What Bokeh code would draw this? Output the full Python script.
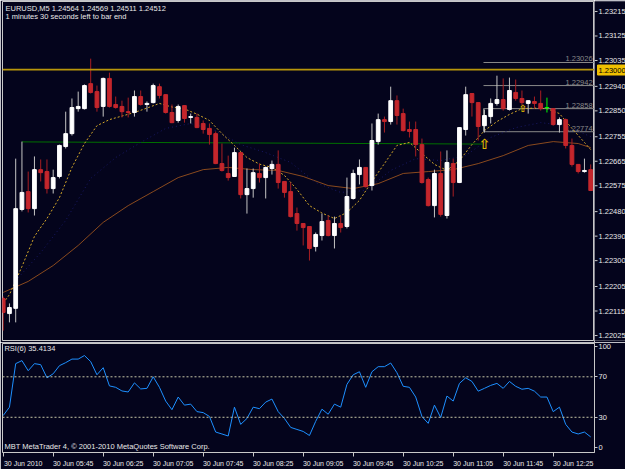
from bokeh.plotting import figure
from bokeh.models import Range1d, FixedTicker, LinearAxis, Span
from bokeh.layouts import column, row
from bokeh.embed import file_html
from bokeh.resources import INLINE
from bokeh.core.properties import value

BG = "#04041c"
FRAME = "#c8c8c8"
TXT = "#e8e8e8"
FONT = "Liberation Sans"

# ---------------- data (EURUSD M5, 30 Jun 2010, bars from 05:05) ----------------
opens = [1.22167, 1.22112, 1.22131, 1.22491, 1.22556, 1.22494, 1.22636, 1.22629, 1.22567, 1.22611,
         1.22720, 1.22767, 1.22858, 1.22858, 1.22949, 1.22920, 1.22866, 1.22968, 1.22873, 1.22866,
         1.22847, 1.22844, 1.22902, 1.22873, 1.22880, 1.22938, 1.22909, 1.22844, 1.22815, 1.22869,
         1.22826, 1.22826, 1.22804, 1.22786, 1.22767, 1.22658, 1.22622, 1.22611, 1.22698, 1.22545,
         1.22567, 1.22622, 1.22607, 1.22640, 1.22655, 1.22593, 1.22556, 1.22476, 1.22440, 1.22429,
         1.22356, 1.22396, 1.22451, 1.22396, 1.22440, 1.22429, 1.22531, 1.22618, 1.22644, 1.22578,
         1.22738, 1.22818, 1.22811, 1.22887, 1.22840, 1.22782, 1.22782, 1.22727, 1.22600, 1.22505,
         1.22622, 1.22469, 1.22658, 1.22589, 1.22782, 1.22913, 1.22880, 1.22796, 1.22829, 1.22877,
         1.22891, 1.22855, 1.22917, 1.22895, 1.22877, 1.22884, 1.22877, 1.22862, 1.22858, 1.22800,
         1.22818, 1.22724, 1.22655, 1.22629, 1.22636]
highs = [1.22174, 1.22149, 1.22676, 1.22738, 1.22629, 1.22684, 1.22673, 1.22673, 1.22636, 1.22727,
         1.22847, 1.22895, 1.22920, 1.22946, 1.23040, 1.22942, 1.22971, 1.22989, 1.22902, 1.22887,
         1.22898, 1.22924, 1.22924, 1.22884, 1.22949, 1.22949, 1.22910, 1.22873, 1.22873, 1.22870,
         1.22840, 1.22840, 1.22815, 1.22804, 1.22775, 1.22731, 1.22687, 1.22716, 1.22699, 1.22640,
         1.22640, 1.22658, 1.22647, 1.22669, 1.22706, 1.22594, 1.22589, 1.22498, 1.22441, 1.22430,
         1.22407, 1.22476, 1.22469, 1.22465, 1.22469, 1.22607, 1.22636, 1.22673, 1.22645, 1.22804,
         1.22840, 1.22829, 1.22938, 1.22906, 1.22858, 1.22811, 1.22811, 1.22749, 1.22607, 1.22636,
         1.22702, 1.22706, 1.22676, 1.22791, 1.22938, 1.22914, 1.22881, 1.22855, 1.22895, 1.22978,
         1.22968, 1.22971, 1.22964, 1.22924, 1.22888, 1.22902, 1.22924, 1.22898, 1.22859, 1.22826,
         1.22822, 1.22749, 1.22656, 1.22676, 1.22655]
lows = [1.22050, 1.22080, 1.22080, 1.22484, 1.22480, 1.22469, 1.22593, 1.22549, 1.22549, 1.22604,
        1.22713, 1.22760, 1.22847, 1.22855, 1.22913, 1.22847, 1.22829, 1.22862, 1.22858, 1.22826,
        1.22826, 1.22829, 1.22869, 1.22847, 1.22877, 1.22895, 1.22840, 1.22805, 1.22807, 1.22807,
        1.22804, 1.22787, 1.22767, 1.22727, 1.22656, 1.22629, 1.22596, 1.22610, 1.22531, 1.22476,
        1.22534, 1.22589, 1.22531, 1.22618, 1.22567, 1.22534, 1.22462, 1.22414, 1.22360, 1.22305,
        1.22338, 1.22378, 1.22393, 1.22349, 1.22407, 1.22422, 1.22527, 1.22582, 1.22571, 1.22560,
        1.22727, 1.22771, 1.22800, 1.22800, 1.22775, 1.22753, 1.22684, 1.22585, 1.22502, 1.22462,
        1.22465, 1.22458, 1.22538, 1.22587, 1.22760, 1.22829, 1.22742, 1.22771, 1.22804, 1.22869,
        1.22851, 1.22851, 1.22887, 1.22869, 1.22840, 1.22858, 1.22851, 1.22844, 1.22796, 1.22771,
        1.22713, 1.22647, 1.22622, 1.22625, 1.22558]
closes = [1.22116, 1.22134, 1.22494, 1.22553, 1.22494, 1.22636, 1.22625, 1.22567, 1.22607, 1.22724,
          1.22767, 1.22862, 1.22866, 1.22942, 1.22917, 1.22862, 1.22968, 1.22866, 1.22862, 1.22847,
          1.22844, 1.22902, 1.22873, 1.22877, 1.22942, 1.22906, 1.22844, 1.22807, 1.22866, 1.22822,
          1.22829, 1.22789, 1.22782, 1.22764, 1.22658, 1.22633, 1.22607, 1.22698, 1.22545, 1.22567,
          1.22625, 1.22607, 1.22644, 1.22655, 1.22589, 1.22553, 1.22465, 1.22440, 1.22425, 1.22349,
          1.22400, 1.22447, 1.22396, 1.22440, 1.22425, 1.22538, 1.22622, 1.22644, 1.22574, 1.22742,
          1.22818, 1.22811, 1.22887, 1.22833, 1.22778, 1.22775, 1.22727, 1.22589, 1.22505, 1.22622,
          1.22473, 1.22662, 1.22589, 1.22789, 1.22909, 1.22880, 1.22793, 1.22833, 1.22877, 1.22891,
          1.22858, 1.22924, 1.22895, 1.22880, 1.22887, 1.22877, 1.22858, 1.22862, 1.22800, 1.22818,
          1.22724, 1.22655, 1.22629, 1.22633, 1.22560]

ma_fast_idx = [0, 1, 3, 5, 7, 9, 11, 13, 15, 17, 19, 21, 23, 25, 27, 29, 31, 33, 35, 37, 39, 41, 43, 45,
               47, 49, 51, 53, 55, 57, 59, 61, 63, 65, 67, 69, 71, 73, 75, 77, 79, 81, 83, 85, 87, 89,
               91, 93, 94]
ma_fast = [1.22150, 1.22181, 1.22283, 1.22393, 1.22458, 1.22534, 1.22644, 1.22731, 1.22796, 1.22818,
           1.22831, 1.22844, 1.22860, 1.22877, 1.22864, 1.22857, 1.22838, 1.22815, 1.22767, 1.22724,
           1.22680, 1.22656, 1.22644, 1.22615, 1.22564, 1.22505, 1.22478, 1.22458, 1.22480, 1.22524,
           1.22593, 1.22658, 1.22724, 1.22735, 1.22695, 1.22655, 1.22633, 1.22669, 1.22727, 1.22778,
           1.22811, 1.22837, 1.22858, 1.22860, 1.22858, 1.22840, 1.22786, 1.22735, 1.22709]
ma_mid_idx = [2, 6, 10, 14, 18, 22, 26, 30, 34, 38, 42, 46, 50, 54, 58, 62, 66, 70, 74, 78, 82, 86, 90, 94]
ma_mid = [1.22232, 1.22334, 1.22451, 1.22604, 1.22680, 1.22735, 1.22786, 1.22804, 1.22778, 1.22727,
          1.22698, 1.22662, 1.22589, 1.22553, 1.22560, 1.22633, 1.22676, 1.22669, 1.22687, 1.22753,
          1.22789, 1.22807, 1.22796, 1.22756]
ma_slow_idx = [0, 4, 8, 12, 16, 20, 24, 28, 32, 36, 40, 44, 48, 52, 56, 60, 64, 68, 72, 76, 80, 84, 88, 92, 94]
ma_slow = [1.22189, 1.22229, 1.22287, 1.22360, 1.22444, 1.22505, 1.22556, 1.22607, 1.22636, 1.22644,
           1.22636, 1.22633, 1.22611, 1.22578, 1.22567, 1.22585, 1.22622, 1.22629, 1.22636, 1.22658,
           1.22687, 1.22724, 1.22738, 1.22731, 1.22716]

rsi_vals = [31.7, 40, 83, 86, 76, 83, 82, 69, 73, 81, 84, 87.5, 87.5, 91, 85, 72, 79, 61, 59.6, 56,
            55, 64, 58, 58.6, 70, 59.6, 46, 37.5, 50, 42, 43, 35.6, 34.6, 30.8, 15.4, 13.5, 11.5, 40, 23, 28.8,
            40, 38.5, 45, 48, 35.6, 28.8, 20, 18, 16, 12, 26, 38, 33, 43, 40, 62.5, 72, 75, 59.6, 75,
            80, 80, 83.6, 74, 60.6, 59.6, 50, 30.8, 24, 42, 29.8, 51, 46, 63.5, 69, 65.4, 55.8, 58.6, 61.5, 63.5,
            58.6, 65.4, 60.6, 57.7, 58.6, 55.8, 50, 50, 35.6, 40, 23, 15.4, 13.5, 15.4, 10.6]
rsi_levels = [70, 30]
rsi_ticks = [0, 30, 70, 100]

price_ticks = [1.22025, 1.22115, 1.22205, 1.22300, 1.22390, 1.22480, 1.22575, 1.22665, 1.22755,
               1.22850, 1.22940, 1.23035, 1.23125, 1.23215]
time_ticks = [0, 8, 16, 24, 32, 40, 48, 56, 64, 72, 80, 88]
time_labels = ["30 Jun 2010", "30 Jun 05:45", "30 Jun 06:25", "30 Jun 07:05", "30 Jun 07:45",
               "30 Jun 08:25", "30 Jun 09:05", "30 Jun 09:45", "30 Jun 10:25", "30 Jun 11:05",
               "30 Jun 11:45", "30 Jun 12:25"]

hline_price = 1.23000
trend_x = [3, 76.7]
trend_y = [1.22737, 1.22729]
fib_start = 76.85
fib_levels = [1.23026, 1.22942, 1.22858, 1.22774]
arrow_x = [77, 83.1]
arrow_y = [1.22731, 1.22858]
arrow_size = ["14px", "10px"]

header1 = "EURUSD,M5  1.24564 1.24569 1.24511 1.24512"
header2 = "1 minutes 30 seconds left to bar end"
rsi_title = "RSI(6) 35.4134"
footer = "MBT MetaTrader 4, \u00a9 2001-2010 MetaQuotes Software Corp."

# ---------------- main price panel ----------------
n = len(opens)
idx = list(range(n))
xr = Range1d(-0.112, 94.608)
y_lo, y_hi = 1.22014, 1.23248
FRAME_H = 339
k = (y_hi - y_lo) / FRAME_H

main = figure(width=594, height=342, x_range=xr, y_range=Range1d(y_lo, y_hi),
              output_backend="svg", toolbar_location=None, x_axis_location=None,
              y_axis_location=None, min_border_left=2, min_border_right=0,
              min_border_top=1, min_border_bottom=2, background_fill_color=BG,
              border_fill_color=BG, outline_line_color=FRAME)
main.xgrid.visible = False
main.ygrid.visible = False

main.add_layout(Span(location=hline_price, dimension="width", line_color="#b8960b", line_width=1.6))
main.line(trend_x, trend_y, line_color="#007000", line_width=1)

for lv in fib_levels:
    main.segment(x0=[fib_start], y0=[lv], x1=[xr.end + 2], y1=[lv], line_color="#8a8a8a", line_width=1)
main.segment(x0=[fib_start], y0=[fib_levels[2]], x1=[fib_start], y1=[fib_levels[3]],
             line_color="#8a8a8a", line_width=1)
main.text(x=[94.3] * len(fib_levels), y=fib_levels, text=["%.5f" % v for v in fib_levels],
          text_align="right", text_baseline="bottom", y_offset=-1, text_color="#8a8a8a",
          text_font=value(FONT), text_font_size="7.5px")

main.line(ma_slow_idx, ma_slow, line_color="#8a4a1e", line_width=1)
main.line(ma_mid_idx, ma_mid, line_color="#191966", line_width=1, line_dash="1 3")
main.line(ma_fast_idx, ma_fast, line_color="#d4a82a", line_width=1, line_dash="2 2")

bx, bo, bc, bh, bl = [], [], [], [], []
rx, ro, rc, rh, rl = [], [], [], [], []
dx, dc, dh, dl = [], [], [], []
for i in idx:
    o, h, l, c = opens[i], highs[i], lows[i], closes[i]
    if c > o:
        bx.append(i); bo.append(o); bc.append(c); bh.append(h); bl.append(l)
    elif c < o:
        rx.append(i); ro.append(o); rc.append(c); rh.append(h); rl.append(l)
    else:
        dx.append(i); dc.append(c); dh.append(h); dl.append(l)

main.segment(x0=bx, y0=bl, x1=bx, y1=bh, line_color="#c4c4c4", line_width=1)
main.segment(x0=rx, y0=rl, x1=rx, y1=rh, line_color="#a81e22", line_width=1)
main.vbar(x=bx, width=0.6, bottom=bo, top=bc, fill_color="#ffffff", line_color="#ffffff", line_width=1)
main.vbar(x=rx, width=0.6, bottom=rc, top=ro, fill_color="#c4262c", line_color="#c4262c", line_width=1)
main.segment(x0=dx, y0=dl, x1=dx, y1=dh, line_color="#00ff00", line_width=1)
main.segment(x0=[x - 0.35 for x in dx], y0=dc, x1=[x + 0.35 for x in dx], y1=dc,
             line_color="#00ff00", line_width=1)

for ax_, ay_, sz in zip(arrow_x, arrow_y, arrow_size):
    main.text(x=[ax_], y=[ay_], text=["\u21e7"], text_align="center", text_baseline="middle",
              text_color="#e0b800", text_font=value("DejaVu Sans"), text_font_size=sz,
              text_font_style="bold")

main.text(x=[0.37], y=[1.23224], text=[header1], text_baseline="middle", text_color=TXT,
          text_font=value(FONT), text_font_size="7.5px")
main.text(x=[0.37], y=[1.23194], text=[header2], text_baseline="middle", text_color=TXT,
          text_font=value(FONT), text_font_size="7.5px")

# ---------------- price scale strip (right of the main panel) ----------------
side = figure(width=31, height=342, x_range=Range1d(0, 31),
              y_range=Range1d(y_lo - 2 * k, y_hi + 1 * k),
              output_backend="svg", toolbar_location=None, x_axis_location=None,
              y_axis_location=None, min_border_left=0, min_border_right=0,
              min_border_top=0, min_border_bottom=0, background_fill_color=BG,
              border_fill_color=BG, outline_line_color=None)
side.xgrid.visible = False
side.ygrid.visible = False
side.segment(x0=[0] * len(price_ticks), y0=price_ticks, x1=[3] * len(price_ticks), y1=price_ticks,
             line_color=FRAME, line_width=1)
side.text(x=[4] * len(price_ticks), y=price_ticks, text=["%.5f" % v for v in price_ticks],
          text_baseline="middle", text_color=TXT, text_font=value(FONT), text_font_size="7.5px")
side.rect(x=[17], y=[hline_price], width=[28], height=[10], height_units="screen",
          fill_color="#f0c000", line_color="#f0c000")
side.text(x=[4], y=[hline_price], text=["%.5f" % hline_price], text_baseline="middle",
          text_color="#000000", text_font=value(FONT), text_font_size="7.5px")

# ---------------- RSI panel ----------------
SHIFT = 3.2
rsi = figure(width=625, height=127, x_range=xr, y_range=Range1d(-4.8, 102.9),
             output_backend="svg", toolbar_location=None, x_axis_location=None,
             y_axis_location="right", min_border_left=2, min_border_right=31,
             min_border_top=1, min_border_bottom=14, background_fill_color=BG,
             border_fill_color=BG, outline_line_color=FRAME)
rsi.xgrid.visible = False
rsi.ygrid.visible = False
ry = rsi.yaxis[0]
ry.ticker = FixedTicker(ticks=rsi_ticks)
ry.major_label_overrides = {t: str(t) for t in rsi_ticks}
ry.major_label_text_font = FONT
ry.major_label_text_font_size = "7.5px"
ry.major_label_text_color = TXT
ry.major_tick_out = 3
ry.major_tick_in = 0
ry.minor_tick_out = 0
ry.minor_tick_in = 0
ry.axis_line_color = FRAME
ry.major_tick_line_color = FRAME
ry.major_label_standoff = 1

rsi.extra_x_ranges = {"lab": Range1d(xr.start - SHIFT, xr.end - SHIFT)}
tax = LinearAxis(x_range_name="lab",
                 ticker=FixedTicker(ticks=time_ticks, minor_ticks=[t - SHIFT for t in time_ticks]),
                 major_label_overrides={t: s for t, s in zip(time_ticks, time_labels)},
                 major_tick_out=0, major_tick_in=0, minor_tick_out=4, minor_tick_in=0,
                 minor_tick_line_color=FRAME, axis_line_color=None,
                 major_label_standoff=3, major_label_text_font=FONT,
                 major_label_text_font_size="7px", major_label_text_color=TXT)
rsi.add_layout(tax, "below")

for lv in rsi_levels:
    rsi.add_layout(Span(location=lv, dimension="width", line_color="#c8c8a8", line_width=1,
                        line_dash="2 2"))
rsi.line(idx, rsi_vals, line_color="#1e90ff", line_width=1)

rsi.text(x=[0.2], y=[97.8], text=[rsi_title], text_baseline="middle", text_color=TXT,
         text_font=value(FONT), text_font_size="7.5px")
rsi.text(x=[0.2], y=[1.0], text=[footer], text_baseline="middle", text_color=TXT,
         text_font=value(FONT), text_font_size="7.5px")

layout = column(row(main, side, spacing=0), rsi, spacing=0)
open("out.html", "w").write(file_html(layout, INLINE))
